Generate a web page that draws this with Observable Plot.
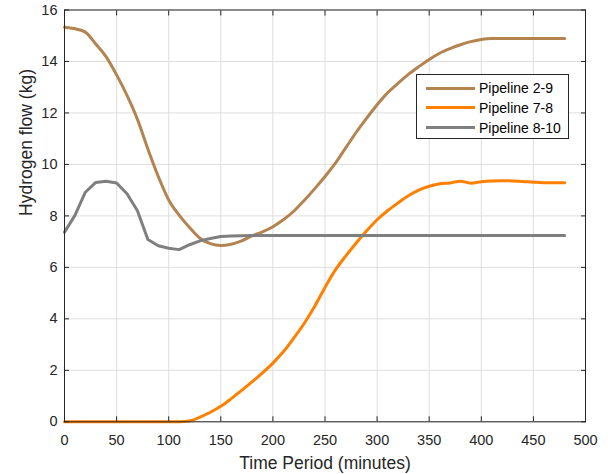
<!DOCTYPE html>
<html>
<head>
<meta charset="utf-8">
<script src="https://cdn.jsdelivr.net/npm/d3@7"></script>
<script src="https://cdn.jsdelivr.net/npm/@observablehq/plot@0.6"></script>
<style>
  html, body { margin: 0; padding: 0; background: #fff; }
  #wrap { position: relative; width: 608px; height: 474px; font-family: "Liberation Sans", Arial, sans-serif; }
  #legend { position: absolute; left: 416px; top: 74px; width: 151px; height: 63px; border: 1px solid #262626; background: #fff; }
  .row { position: absolute; left: 0; height: 20px; width: 100%; }
  .sw { position: absolute; left: 9px; width: 49px; height: 3px; top: 8.5px; }
  .lb { position: absolute; left: 62px; top: 0; line-height: 20px; font-size: 14px; color: #000; white-space: nowrap; }
</style>
</head>
<body>
<div id="wrap"></div>
<script>
const minutes = [0,10,20,30,40,50,60,70,80,90,100,110,120,130,140,150,160,170,180,190,200,210,220,230,240,250,260,270,280,290,300,310,320,330,340,350,360,370,380,390,400,410,420,430,440,450,460,470,480];
const pipeline29 = [15.33,15.27,15.14,14.68,14.18,13.48,12.68,11.75,10.6,9.53,8.62,8.03,7.55,7.13,6.92,6.85,6.9,7.03,7.22,7.38,7.58,7.85,8.18,8.6,9.05,9.53,10.05,10.65,11.25,11.8,12.32,12.78,13.15,13.5,13.8,14.08,14.32,14.5,14.65,14.77,14.85,14.89,14.89,14.89,14.89,14.89,14.89,14.89,14.89];
const pipeline78 = [0,0,0,0,0,0,0,0,0,0,0,0,0.03,0.18,0.37,0.6,0.9,1.22,1.55,1.9,2.28,2.72,3.25,3.82,4.48,5.22,5.9,6.45,6.95,7.42,7.85,8.2,8.5,8.78,9.0,9.15,9.25,9.28,9.35,9.27,9.33,9.36,9.37,9.36,9.34,9.31,9.29,9.29,9.29];
const pipeline810 = [7.37,8.02,8.92,9.3,9.35,9.28,8.86,8.2,7.08,6.84,6.74,6.69,6.88,7.03,7.12,7.2,7.22,7.23,7.24,7.24,7.24,7.24,7.24,7.24,7.24,7.24,7.24,7.24,7.24,7.24,7.24,7.24,7.24,7.24,7.24,7.24,7.24,7.24,7.24,7.24,7.24,7.24,7.24,7.24,7.24,7.24,7.24,7.24,7.24];
const seriesNames = ["Pipeline 2-9", "Pipeline 7-8", "Pipeline 8-10"];
const seriesColors = ["#b3844f", "#ff8000", "#7f7f7f"];
const seriesCurves = ["monotone-x", "monotone-x", "linear"];
const xTicks = [0,50,100,150,200,250,300,350,400,450,500];
const yTicks = [0,2,4,6,8,10,12,14,16];
const xLabel = "Time Period (minutes)";
const yLabel = "Hydrogen flow (kg)";

const seriesValues = [pipeline29, pipeline78, pipeline810];
const data = [];
seriesNames.forEach((name, i) => {
  minutes.forEach((t, j) => data.push({series: name, t, v: seriesValues[i][j]}));
});

const ink = "#262626";
const lineMarks = seriesNames.map((name, i) =>
  Plot.line(data.filter(d => d.series === name), {x: "t", y: "v", stroke: "series", strokeWidth: 3, strokeLinejoin: "round", curve: seriesCurves[i]})
);

const chart = Plot.plot({
  width: 608,
  height: 474,
  marginLeft: 64,
  marginRight: 23,
  marginTop: 9.5,
  marginBottom: 52.7,
  style: {fontFamily: "'Liberation Sans', Arial, sans-serif", fontSize: "14.5px", color: ink, background: "white"},
  x: {domain: [0, 500]},
  y: {domain: [0, 16]},
  color: {domain: seriesNames, range: seriesColors},
  marks: [
    Plot.gridX(xTicks, {stroke: "#dedede", strokeOpacity: 1}),
    Plot.gridY(yTicks, {stroke: "#dedede", strokeOpacity: 1}),
    ...lineMarks,
    Plot.frame({stroke: ink}),
    Plot.axisX(xTicks, {anchor: "bottom", tickSize: 0, tickPadding: 13, label: null, color: ink}),
    Plot.axisY(yTicks, {anchor: "left", tickSize: 0, tickPadding: 7, label: null, color: ink}),
    Plot.axisX(xTicks, {anchor: "bottom", tickSize: -5, text: null, label: null, stroke: ink}),
    Plot.axisX(xTicks, {anchor: "top", tickSize: -5, text: null, label: null, stroke: ink}),
    Plot.axisY(yTicks, {anchor: "left", tickSize: -5, text: null, label: null, stroke: ink}),
    Plot.axisY(yTicks, {anchor: "right", tickSize: -5, text: null, label: null, stroke: ink}),
    Plot.text([xLabel], {frameAnchor: "bottom", dy: 41.7, fontSize: 17.5, fill: ink, lineAnchor: "middle"}),
    Plot.text([yLabel], {frameAnchor: "left", dx: -38, rotate: -90, fontSize: 17.5, fill: ink, lineAnchor: "middle"})
  ]
});

const wrap = document.getElementById("wrap");
wrap.appendChild(chart);

const legend = document.createElement("div");
legend.id = "legend";
const rowTops = [3, 22.7, 42.7];
seriesNames.forEach((name, i) => {
  const row = document.createElement("div");
  row.className = "row";
  row.style.top = rowTops[i] + "px";
  const sw = document.createElement("div");
  sw.className = "sw";
  sw.style.background = seriesColors[i];
  const lb = document.createElement("div");
  lb.className = "lb";
  lb.textContent = name;
  row.appendChild(sw);
  row.appendChild(lb);
  legend.appendChild(row);
});
wrap.appendChild(legend);
</script>
</body>
</html>
